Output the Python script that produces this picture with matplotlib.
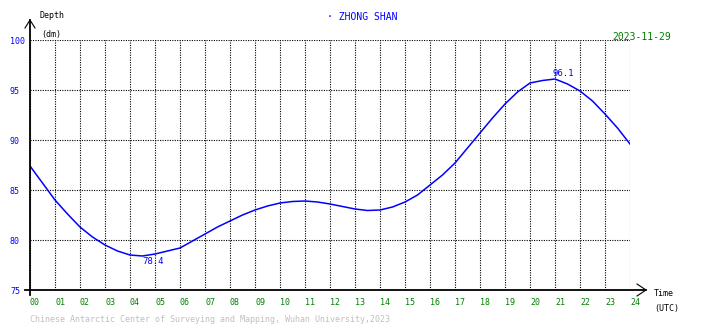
import matplotlib
matplotlib.use("Agg")
import matplotlib.pyplot as plt
import numpy as np

# Tide height at Zhong Shan station, half-hourly (UTC)
hours = [0, 0.5, 1, 1.5, 2, 2.5, 3, 3.5, 4, 4.5, 5, 5.5, 6, 6.5, 7, 7.5, 8, 8.5,
         9, 9.5, 10, 10.5, 11, 11.5, 12, 12.5, 13, 13.5, 14, 14.5, 15, 15.5, 16,
         16.5, 17, 17.5, 18, 18.5, 19, 19.5, 20, 20.5, 21, 21.5, 22, 22.5, 23,
         23.5, 24]
depth = [87.4, 85.7, 84.0, 82.6, 81.3, 80.3, 79.5, 78.9, 78.5, 78.4, 78.6, 78.9,
         79.2, 79.9, 80.6, 81.3, 81.9, 82.5, 83.0, 83.4, 83.7, 83.85, 83.9, 83.8,
         83.6, 83.35, 83.1, 82.95, 83.0, 83.3, 83.8, 84.5, 85.5, 86.5, 87.7, 89.2,
         90.7, 92.2, 93.6, 94.8, 95.7, 95.95, 96.1, 95.6, 94.9, 93.9, 92.6, 91.2,
         89.6]
hour_labels = [f"{h:02d}" for h in range(25)]
depth_ticks = [75, 80, 85, 90, 95, 100]
station = "ZHONG SHAN"
date_str = "2023-11-29"
credit = "Chinese Antarctic Center of Surveying and Mapping, Wuhan University,2023"

BLUE = "#0000ff"
GREEN = "#008000"
W, H = 710, 328

plt.rcParams["font.family"] = "DejaVu Sans Mono"

fig = plt.figure(figsize=(W / 100, H / 100), dpi=100)
fig.patch.set_facecolor("white")

# plot area in pixels: x 30..630, y 40..290
ax = fig.add_axes([30 / W, 1 - 290 / H, 600 / W, 250 / H])
ax.set_xlim(0, 24)
ax.set_ylim(75, 100)
for s in ax.spines.values():
    s.set_visible(False)

ax.set_xticks(range(25))
ax.set_xticklabels(hour_labels, ha="left", color=GREEN, fontsize=6)
ax.set_yticks(depth_ticks)
ax.set_yticklabels([str(v) for v in depth_ticks], ha="left", color=BLUE, fontsize=6)
ax.tick_params(axis="x", length=0, pad=6)
ax.tick_params(axis="y", length=0, pad=14.4)
ax.grid(True, color="black", linestyle=(0, (1, 1.2)), linewidth=0.8)

# curve
ax.plot(hours, depth, color=BLUE, linewidth=1.1)

# extremes
i_min = int(np.argmin(depth))
i_max = int(np.argmax(depth))
ax.annotate(f"{depth[i_min]:.1f}", (hours[i_min], depth[i_min]), xytext=(0, -1),
            textcoords="offset points", ha="left", va="top", color=BLUE, fontsize=6.5)
ax.annotate(f"{depth[i_max]:.1f}", (hours[i_max], depth[i_max]), xytext=(-2, 1),
            textcoords="offset points", ha="left", va="bottom", color=BLUE, fontsize=6.5)


def px(x, y):
    return x / W, 1 - y / H


def pline(xs, ys, lw=1.3):
    fx = [x / W for x in xs]
    fy = [1 - y / H for y in ys]
    fig.add_artist(plt.Line2D(fx, fy, color="black", linewidth=lw))


# axes with arrows
pline([30, 30], [295, 20])
pline([25, 30, 35], [28, 20, 28], lw=0.8)
pline([25, 646], [290, 290])
pline([637, 646, 637], [284, 290, 296], lw=0.8)

fig.text(*px(40, 16), "Depth", fontsize=6, va="center", ha="left")
fig.text(*px(41, 34), "(dm)", fontsize=6, va="center", ha="left")
fig.text(*px(654, 294), "Time", fontsize=6, va="center", ha="left")
fig.text(*px(654, 309), "(UTC)", fontsize=6, va="center", ha="left")

fig.text(*px(327, 17), "· " + station, fontsize=7, color=BLUE, va="center", ha="left")
fig.text(*px(612, 37), date_str, fontsize=7, color=GREEN, va="center", ha="left")
fig.text(*px(30, 320), credit, fontsize=6, color="#c0c0c0", va="center", ha="left")

fig.savefig("out.png", dpi=100, facecolor="white")
